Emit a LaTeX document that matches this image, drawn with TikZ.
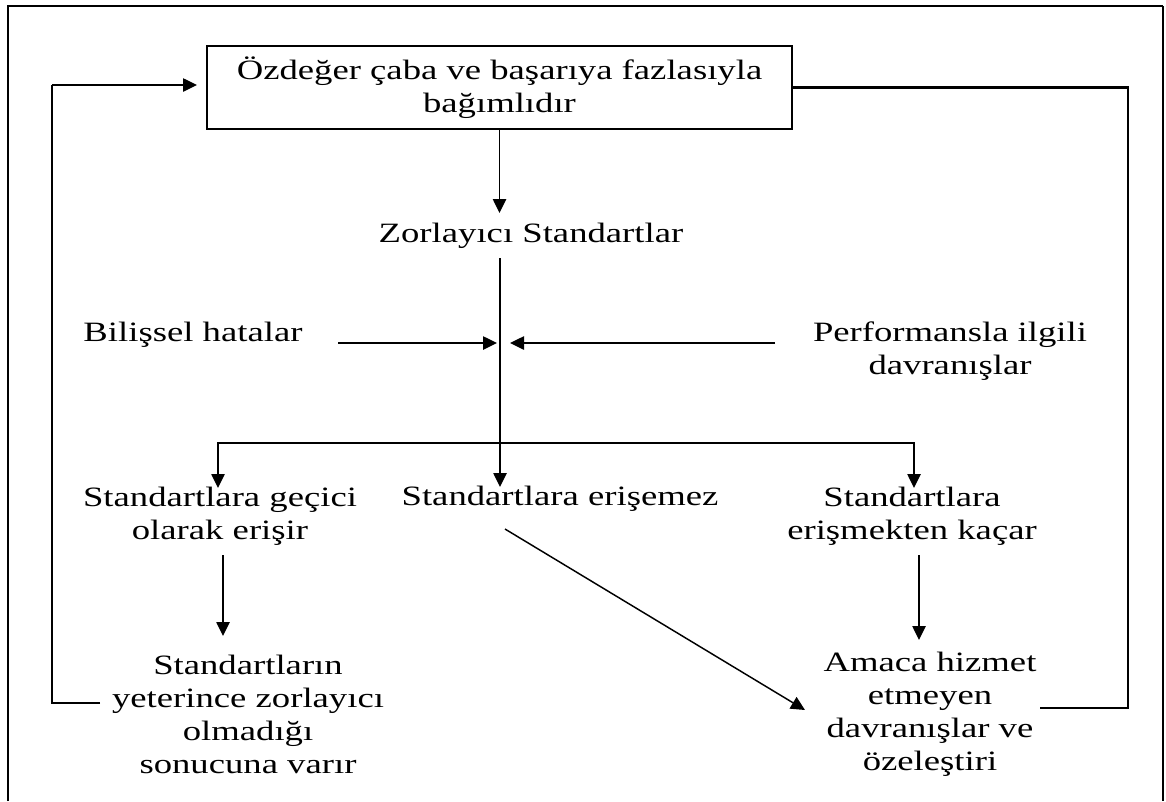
\documentclass[tikz,border=0pt]{standalone}
\usepackage{fontspec}
\setmainfont[FakeStretch=1.31]{Liberation Serif}
\usetikzlibrary{arrows.meta}
\begin{document}
\begin{tikzpicture}[x=0.75pt,y=-0.75pt,
  txt/.style={align=center, font=\fontsize{21}{24.75}\selectfont, inner sep=0pt},
  arr/.style={line width=1.1pt, -{Triangle[length=10.5pt,width=10pt]}},
  loopline/.style={line width=2pt}]
\useasboundingbox (0,0) rectangle (1166,801);
% outer frame
\draw[line width=2.2pt] (8,801) -- (8,6) -- (1163,6);
\draw[line width=1.1pt] (1163,6) -- (1163,801);

% nodes
\node[txt, draw, line width=1.1pt, minimum width=438.75pt, minimum height=62.25pt] (top) at (499.5,87.5) {Özdeğer çaba ve başarıya fazlasıyla\\bağımlıdır};
\node[txt] (zor) at (531,236) {Zorlayıcı Standartlar};
\node[txt] (bil) at (193,335) {Bilişsel hatalar};
\node[txt] (perf) at (950,351) {Performansla ilgili\\davranışlar};
\node[txt] (gec) at (220,516) {Standartlara geçici\\olarak erişir};
\node[txt] (eris) at (560,499) {Standartlara erişemez};
\node[txt] (kac) at (912,516) {Standartlara\\erişmekten kaçar};
\node[txt] (sonuc) at (248,714) {Standartların\\yeterince zorlayıcı\\olmadığı\\sonucuna varır};
\node[txt] (amaca) at (930,714) {Amaca hizmet\\etmeyen\\davranışlar ve\\özeleştiri};

% coordinates
\coordinate (zt) at (499.5,213);
\coordinate (zb) at (500,258);
\coordinate (et) at (500,487);
\coordinate (bs) at (338,343);
\coordinate (bt) at (497,343);
\coordinate (ps) at (775,343);
\coordinate (pt) at (510,343);
\coordinate (bm) at (500,443);
\coordinate (gt) at (218,488);
\coordinate (kt) at (914,488);
\coordinate (gs) at (223,555);
\coordinate (ge) at (223,636);
\coordinate (ks) at (919,555);
\coordinate (ke) at (919,640);
\coordinate (ds) at (505,529);
\coordinate (de) at (805,710);
\coordinate (lb) at (100,703);
\coordinate (lc) at (52,703);
\coordinate (ld) at (52,85);
\coordinate (lt) at (197,85);
\coordinate (rc1) at (1128,87.5);
\coordinate (rc2) at (1128,708);
\coordinate (rb) at (1040,708);

% connectors
\draw[arr] (top.south) -- (zt);
\draw[arr] (zb) -- (et);
\draw[arr] (bs) -- (bt);
\draw[arr] (ps) -- (pt);
\draw[arr] (bm) -| (gt);
\draw[arr] (bm) -| (kt);
\draw[arr] (gs) -- (ge);
\draw[arr] (ks) -- (ke);
\draw[arr] (ds) -- (de);
\draw[loopline] (lb) -- (lc) -- (ld);
\draw[arr] (ld) -- (lt);
\draw[loopline] (top.east) -- (rc1) -- (rc2) -- (rb);
\end{tikzpicture}
\end{document}
